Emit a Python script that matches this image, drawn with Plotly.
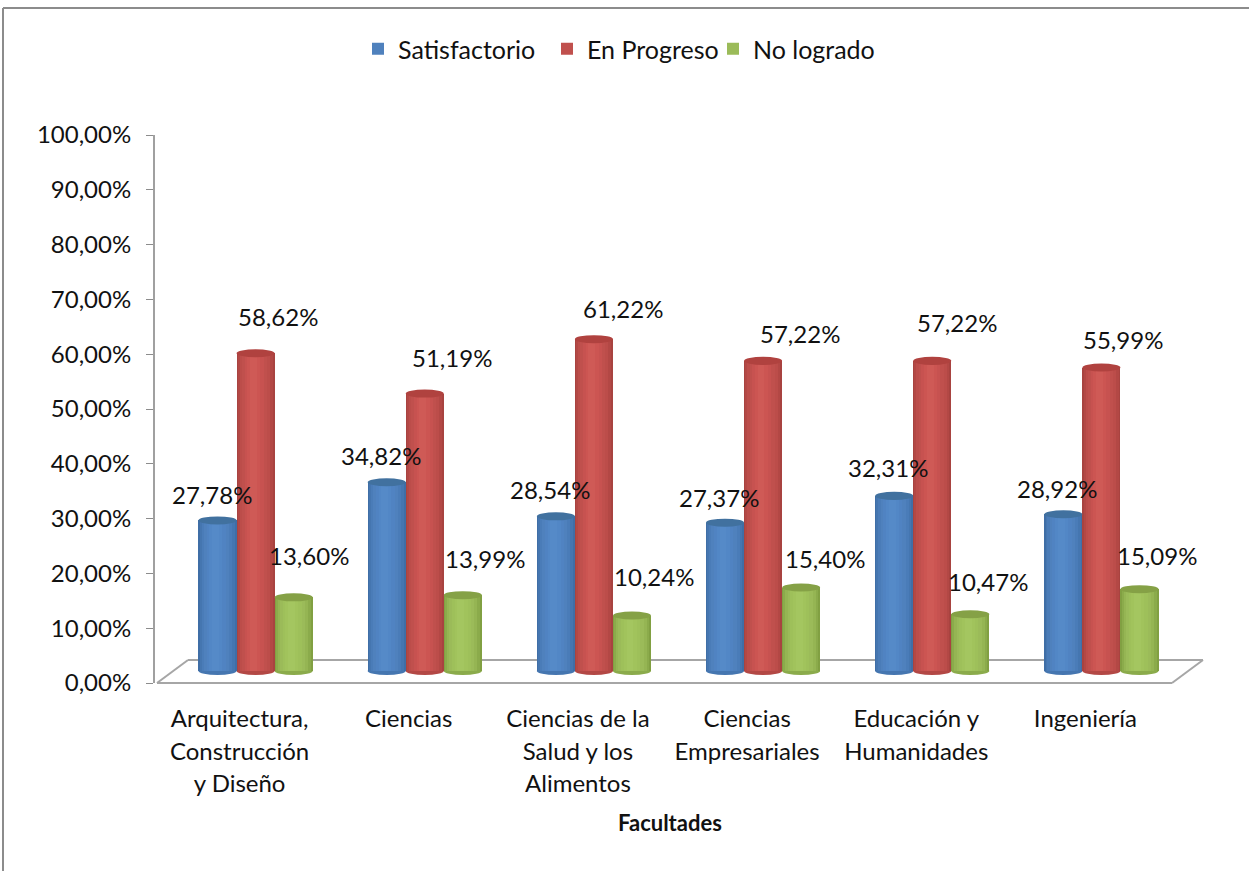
import plotly.graph_objects as go

categories = ["Arquitectura,<br>Construcción<br>y Diseño", "Ciencias", "Ciencias de la<br>Salud y los<br>Alimentos",
              "Ciencias<br>Empresariales", "Educación y<br>Humanidades", "Ingeniería"]
satisfactorio = [27.78, 34.82, 28.54, 27.37, 32.31, 28.92]
en_progreso = [58.62, 51.19, 61.22, 57.22, 57.22, 55.99]
no_logrado = [13.60, 13.99, 10.24, 15.40, 10.47, 15.09]
series_names = ["Satisfactorio", "En Progreso", "No logrado"]
y_ticks = [0, 10, 20, 30, 40, 50, 60, 70, 80, 90, 100]

W, H = 1249, 871
FONT = "Lato"
FS = 24
TXT = "#111111"

def px(x): return x / W
def py(y): return (H - y) / H

series = [
    dict(name=series_names[0], vals=satisfactorio, off=-0.225, cap="#41719f", lw=144,
         layers=["#3f6ea6", "#4576b0", "#4a7cb8", "#4f81bd", "#5083c2", "#5287c6", "#558ac8"]),
    dict(name=series_names[1], vals=en_progreso, off=0.0, cap="#b0423f", lw=121,
         layers=["#a84340", "#b34845", "#bc4d4a", "#c0504d", "#c75250", "#cc5552", "#cf5a56"]),
    dict(name=series_names[2], vals=no_logrado, off=0.225, cap="#85a146", lw=140,
         layers=["#81a042", "#8bab4b", "#95b553", "#9bbb59", "#9ec05a", "#a1c35c", "#a4c660"]),
]
fracs = [1.0, 0.92, 0.8, 0.66, 0.5, 0.34, 0.18]
BAR_W = 0.225

fig = go.Figure()
# primary axes carry ticks and labels; an invisible trace activates them
fig.add_trace(go.Scatter(x=[0, 5], y=[0, 100], mode="markers", marker=dict(opacity=0, size=1),
                         showlegend=False, hoverinfo="skip", xaxis="x", yaxis="y"))

idx = list(range(len(categories)))
for s in series:
    for k, (f, col) in enumerate(zip(fracs, s["layers"])):
        w = BAR_W * f
        shift = -0.012 * (k / (len(fracs) - 1))
        fig.add_trace(go.Bar(x=idx, y=s["vals"], name=s["name"], width=w,
                             offset=s["off"] - w / 2 + shift,
                             marker=dict(color=col, line=dict(width=0)), legendwidth=s["lw"],
                             showlegend=(k == 3), xaxis="x2", yaxis="y2"))

shapes = []
# floor of the 3D box
floor = dict(type="line", xref="paper", yref="paper", layer="below",
             line=dict(color="#a6a6a6", width=2))
for (a, b, c, d) in [(157, 683, 1172, 683), (188, 660, 1203, 660), (157, 683, 188, 660), (1172, 683, 1203, 660)]:
    shapes.append({**floor, "x0": px(a), "y0": py(b), "x1": px(c), "y1": py(d)})
# outer chart border (top and left only)
for (a, b, c, d) in [(3, 8, W, 8), (3, 8, 3, H)]:
    shapes.append(dict(type="line", xref="paper", yref="paper", x0=px(a), y0=py(b), x1=px(c), y1=py(d),
                       line=dict(color="#8c8c8c", width=2)))
# cylinder caps and bases
DY = 0.74
for s in series:
    for i, v in zip(idx, s["vals"]):
        x0, x1 = i + s["off"] - BAR_W / 2, i + s["off"] + BAR_W / 2
        shapes.append(dict(type="circle", xref="x2", yref="y2", x0=x0, x1=x1, y0=-DY, y1=DY,
                           fillcolor=s["layers"][1], line=dict(width=0), layer="below"))
        shapes.append(dict(type="circle", xref="x2", yref="y2", x0=x0, x1=x1, y0=v - DY, y1=v + DY,
                           fillcolor=s["cap"], line=dict(width=0), layer="above"))

label_shift = {
    0: [(-6, 26), (-6, 27), (-6, 27), (-6, 25), (-6, 28), (-6, 26)],
    1: [(22, 37), (27, 36), (29, 31), (37, 27), (25, 38), (22, 28)],
    2: [(15, 42), (22, 37), (22, 39), (24, 29), (18, 33), (18, 34)],
}
ann = []
for n, s in enumerate(series):
    for i, v in zip(idx, s["vals"]):
        dx, dy = label_shift[n][i]
        ann.append(dict(x=i + s["off"], y=v, xref="x2", yref="y2", xshift=dx, yshift=dy, showarrow=False,
                        xanchor="center", yanchor="middle", text=f"{v:.2f}".replace(".", ",") + "%",
                        font=dict(family=FONT, size=FS, color=TXT)))
ann.append(dict(x=px(670), y=py(822), xref="paper", yref="paper", showarrow=False, text="<b>Facultades</b>",
                xanchor="center", yanchor="middle", font=dict(family=FONT, size=22, color=TXT)))

ticktext = [f'<span style="font-size:{FS}px">{c}</span>'.replace("<br>", f'</span><br><span style="font-size:{FS}px">')
            for c in categories]
y_text = [f"{v:.2f}".replace(".", ",") + "%" for v in y_ticks]

fig.update_layout(
    width=W, height=H, margin=dict(l=0, r=0, t=0, b=0, autoexpand=False), autosize=False,
    paper_bgcolor="white", plot_bgcolor="rgba(0,0,0,0)",
    barmode="overlay", bargap=0, separators=",.",
    font=dict(family=FONT, size=FS, color=TXT),
    shapes=shapes, annotations=ann,
    legend=dict(orientation="h", x=px(358), y=py(49),
                xanchor="left", yanchor="middle", entrywidthmode="pixels",
                font=dict(family=FONT, size=25, color=TXT), bgcolor="rgba(0,0,0,0)", traceorder="normal"),
    xaxis=dict(domain=[px(155), px(1170)], range=[-0.5, 5.5], tickmode="array", tickvals=idx, ticktext=ticktext,
               showgrid=False, zeroline=False, showline=False, ticks="", anchor="y",
               tickfont=dict(family=FONT, size=25, color=TXT), tickangle=0, ticklabelstandoff=18),
    yaxis=dict(domain=[py(683), py(135)], range=[0, 100], tickmode="array", tickvals=y_ticks, ticktext=y_text,
               showgrid=False, zeroline=False, showline=True,
               linecolor="#a0a0a0", linewidth=2, ticks="outside", ticklen=7, tickwidth=1, tickcolor="#8c8c8c",
               tickfont=dict(family=FONT, size=FS, color=TXT), ticklabelstandoff=10, anchor="x"),
    xaxis2=dict(domain=[px(171), px(1186)], range=[-0.5, 5.5], visible=False, anchor="y2"),
    yaxis2=dict(domain=[py(671 + 3 * 5.42), py(671 - 100 * 5.42)], range=[-3, 100], visible=False, anchor="x2"),
)

fig.write_html("out.html", config=dict(displayModeBar=False),
               post_script="document.body.style.margin='0';document.body.style.overflow='hidden';")
